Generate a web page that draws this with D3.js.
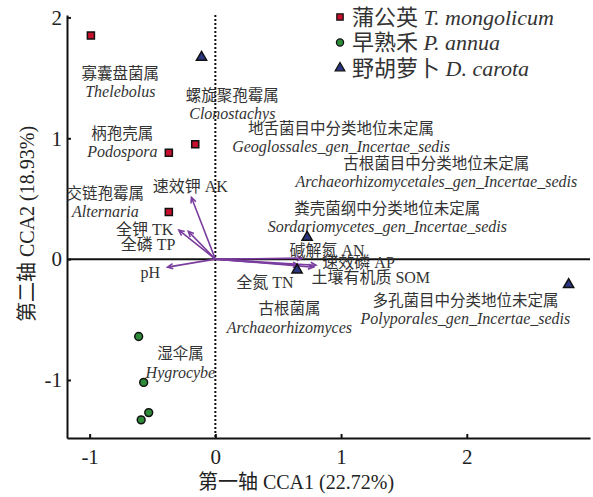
<!DOCTYPE html>
<html><head><meta charset="utf-8">
<script src="https://cdn.jsdelivr.net/npm/d3@7"></script>
<style>
body{margin:0;background:#fff;}
text{font-family:"Liberation Serif","Times New Roman","Noto Sans CJK SC",serif;}
</style></head>
<body><svg id="c" width="593" height="497"></svg>
<script>
// ---- data ----
const groups = ["蒲公英", "早熟禾", "野胡萝卜"];
const groupLatin = ["T. mongolicum", "P. annua", "D. carota"];
const taraxacumX = [-0.99, -0.37, -0.16, -0.37];
const taraxacumY = [1.85, 0.88, 0.95, 0.39];
const poaX = [-0.61, -0.57, -0.53, -0.59];
const poaY = [-0.64, -1.02, -1.27, -1.33];
const daucusX = [-0.11, 0.73, 0.65, 2.81];
const daucusY = [1.67, 0.18, -0.09, -0.21];

const envNames = ["速效钾 AK", "全钾 TK", "全磷 TP", "pH", "碱解氮 AN", "速效磷 AP", "土壤有机质 SOM", "全氮 TN"];
const envX = [-0.19, -0.29, -0.215, -0.38, 0.69, 0.80, 0.78, 0.66];
const envY = [0.51, 0.24, 0.23, -0.066, 0.008, -0.05, -0.066, -0.05];
const envLabelX = [-0.199, -0.334, -0.318, -0.517, 0.589, 0.851, 0.764, 0.167];
const envLabelY = [0.603, 0.248, 0.124, -0.107, 0.074, -0.025, -0.149, -0.19];
const envAnchor = ["middle", "end", "end", "middle", "start", "start", "start", "start"];

const genusCN = ["寡囊盘菌属", "螺旋聚孢霉属", "柄孢壳属", "地舌菌目中分类地位未定属", "古根菌目中分类地位未定属",
  "粪壳菌纲中分类地位未定属", "交链孢霉属", "古根菌属", "多孔菌目中分类地位未定属", "湿伞属"];
const genusLatin = ["Thelebolus", "Clonostachys", "Podospora", "Geoglossales_gen_Incertae_sedis",
  "Archaeorhizomycetales_gen_Incertae_sedis", "Sordariomycetes_gen_Incertae_sedis", "Alternaria",
  "Archaeorhizomyces", "Polyporales_gen_Incertae_sedis", "Hygrocybe"];
const genusX = [-0.756, 0.135, -0.74, 1.0, 1.758, 1.368, -0.875, 0.589, 1.989, -0.278];
const genusY = [1.537, 1.355, 1.04, 1.083, 0.793, 0.421, 0.545, -0.413, -0.339, -0.785];

const xTicks = [-1, 0, 1, 2];
const yTicks = [-1, 0, 1, 2];
const xTitle = "第一轴 CCA1 (22.72%)";
const yTitle = "第二轴 CCA2 (18.93%)";

// ---- drawing ----
const svg = d3.select("#c");
const x = d3.scaleLinear().domain([-1.18, 2.98]).range([67, 590]);
const y = d3.scaleLinear().domain([-1.48, 2.02]).range([438, 15]);
const purple = "#7a3d9e";
const txt = "#333";

// reference lines
svg.append("line").attr("x1", x(-1.18)).attr("x2", x(2.98)).attr("y1", y(0)).attr("y2", y(0))
  .attr("stroke", "#111").attr("stroke-width", 2);
svg.append("line").attr("x1", x(0)).attr("x2", x(0)).attr("y1", y(2.02)).attr("y2", y(-1.48))
  .attr("stroke", "#111").attr("stroke-width", 2).attr("stroke-dasharray", "2,2");

// axes
const ax = svg.append("g").attr("transform", `translate(0,${y(-1.48)})`)
  .call(d3.axisBottom(x).tickValues(xTicks).tickFormat(d3.format("d")).tickSizeInner(-4).tickSizeOuter(0).tickPadding(7));
const ay = svg.append("g").attr("transform", `translate(${x(-1.18)},0)`)
  .call(d3.axisLeft(y).tickValues(yTicks).tickFormat(d3.format("d")).tickSizeInner(-4).tickSizeOuter(0).tickPadding(5));
[ax, ay].forEach(a => {
  a.select(".domain").attr("stroke", "#111").attr("stroke-width", 2);
  a.selectAll(".tick line").attr("stroke", "#111").attr("stroke-width", 2);
  a.selectAll(".tick text").attr("font-size", 21).attr("fill", "#222");
});
ax.selectAll(".tick text").attr("dy", "0.9em").text(d => d < 0 ? "-" + Math.abs(d) : d);
ay.selectAll(".tick text").text(d => d < 0 ? "-" + Math.abs(d) : d);

svg.append("text").attr("x", 296).attr("y", 489).attr("text-anchor", "middle")
  .attr("font-size", 20).attr("fill", "#222").text(xTitle);
svg.append("text").attr("transform", `translate(34,224) rotate(-90)`).attr("text-anchor", "middle")
  .attr("font-size", 20).attr("fill", "#222").text(yTitle);

// env arrows
const arrows = svg.append("g");
envNames.forEach((n, i) => {
  const x0 = x(0), y0 = y(0), x1 = x(envX[i]), y1 = y(envY[i]);
  const ang = Math.atan2(y1 - y0, x1 - x0);
  arrows.append("line").attr("x1", x0).attr("y1", y0).attr("x2", x1).attr("y2", y1)
    .attr("stroke", purple).attr("stroke-width", 1.6);
  const h = 6, w = 0.45;
  const p = [[x1 - h * Math.cos(ang - w), y1 - h * Math.sin(ang - w)], [x1, y1], [x1 - h * Math.cos(ang + w), y1 - h * Math.sin(ang + w)]];
  arrows.append("path").attr("d", d3.line()(p)).attr("fill", "none")
    .attr("stroke", purple).attr("stroke-width", 1.6);
  arrows.append("text").attr("x", x(envLabelX[i])).attr("y", y(envLabelY[i])).attr("dy", "0.35em")
    .attr("text-anchor", envAnchor[i]).attr("font-size", 16).attr("fill", txt).text(n);
});

// genus labels
genusCN.forEach((n, i) => {
  const g = svg.append("g");
  g.append("text").attr("x", x(genusX[i])).attr("y", y(genusY[i])).attr("dy", "0.35em")
    .attr("text-anchor", "middle").attr("font-size", 15.5).attr("fill", txt).text(n);
  g.append("text").attr("x", x(genusX[i])).attr("y", y(genusY[i]) + 18).attr("dy", "0.35em")
    .attr("text-anchor", "middle").attr("font-size", 16).attr("font-style", "italic").attr("fill", txt).text(genusLatin[i]);
});

// points
const sq = d3.symbol().type(d3.symbolSquare).size(50);
const ci = d3.symbol().type(d3.symbolCircle).size(48);
const tr = d3.symbol().type(d3.symbolTriangle).size(45);
const ptsG = svg.append("g");
const sets = [
  {xs: taraxacumX, ys: taraxacumY, sym: sq, fill: "#c8102e"},
  {xs: poaX, ys: poaY, sym: ci, fill: "#2e8b3a"},
  {xs: daucusX, ys: daucusY, sym: tr, fill: "#2b3580"}
];
sets.forEach(s => {
  s.xs.forEach((v, i) => {
    ptsG.append("path").attr("d", s.sym()).attr("transform", `translate(${x(v)},${y(s.ys[i])})`)
      .attr("fill", s.fill).attr("stroke", "#111").attr("stroke-width", 1.5);
  });
});

// legend
const leg = svg.append("g");
groups.forEach((gname, i) => {
  const cy = 17 + i * 25.5;
  leg.append("path").attr("d", sets[i].sym.size(40)()).attr("transform", `translate(340,${cy})`)
    .attr("fill", sets[i].fill).attr("stroke", "#111").attr("stroke-width", 1.3);
  const t = leg.append("text").attr("x", 352).attr("y", cy).attr("dy", "0.36em").attr("font-size", 22).attr("fill", txt);
  t.append("tspan").text(gname + " ");
  t.append("tspan").attr("font-style", "italic").text(groupLatin[i]);
});
</script></body></html>
